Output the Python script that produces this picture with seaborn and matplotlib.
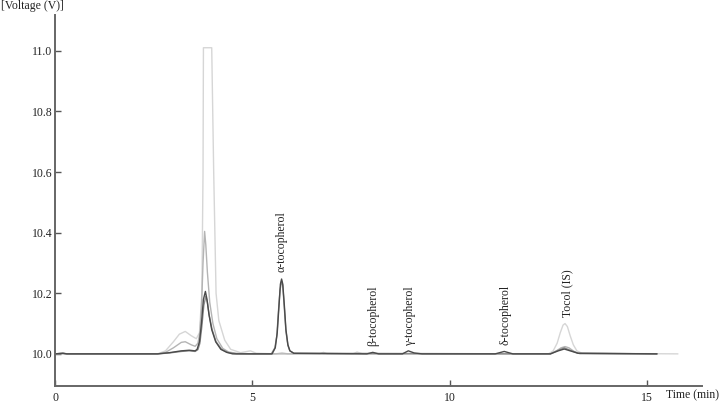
import matplotlib
matplotlib.use("Agg")
import matplotlib.pyplot as plt
import seaborn as sns
import pandas as pd

# ---- data (time in min, voltage in V) ----
t1 = [0, 0.2, 0.3, 2.6, 2.8, 3.0, 3.15, 3.3, 3.45, 3.58, 3.66, 3.72, 3.75, 3.76, 3.97, 4.02,
      4.08, 4.15, 4.3, 4.45, 4.7, 4.95, 5.1, 5.6, 5.75, 5.9, 6.7, 6.8, 6.9, 7.55, 7.65, 7.8,
      12.5, 12.62, 12.72, 12.8, 12.87, 12.92, 12.98, 13.05, 13.13, 13.22, 13.35, 15.78]
v1 = [10.0, 10.003, 10.0, 10.0, 10.01, 10.04, 10.065, 10.074, 10.06, 10.05, 10.07, 10.2, 10.6,
      11.01, 11.01, 10.6, 10.2, 10.11, 10.045, 10.015, 10.004, 10.01, 10.002, 10.0, 10.004, 10.0,
      10.0, 10.005, 10.0, 10.0, 10.006, 10.0,
      10.0, 10.01, 10.035, 10.07, 10.095, 10.10, 10.09, 10.06, 10.03, 10.01, 10.002, 10.0]

t2 = [0, 2.6, 2.8, 3.0, 3.2, 3.3, 3.45, 3.55, 3.62, 3.67, 3.71, 3.75, 3.79, 3.82, 3.86, 3.92,
      4.0, 4.1, 4.25, 4.4, 4.6, 5.0, 12.55, 12.7, 12.82, 12.92, 13.02, 13.15, 13.3, 15.25]
v2 = [10.0, 10.0, 10.005, 10.02, 10.038, 10.04, 10.03, 10.025, 10.035, 10.07, 10.15, 10.3,
      10.404, 10.36, 10.27, 10.17, 10.1, 10.05, 10.018, 10.006, 10.002, 10.0,
      10.0, 10.01, 10.02, 10.024, 10.02, 10.008, 10.0, 10.0]

t3 = [0, 0.2, 0.3, 2.6, 2.9, 3.2, 3.4, 3.55, 3.62, 3.67, 3.72, 3.77, 3.82, 3.86, 3.91, 3.98,
      4.08, 4.22, 4.37, 4.6, 5.48, 5.57, 5.62, 5.66, 5.7, 5.74, 5.77, 5.81, 5.85, 5.9, 5.95,
      6.05, 12.55, 12.75, 12.9, 13.05, 13.25, 15.25]
v3 = [10.0, 10.002, 10.0, 10.0, 10.003, 10.008, 10.01, 10.008, 10.014, 10.035, 10.09, 10.16,
      10.19, 10.17, 10.125, 10.08, 10.04, 10.015, 10.005, 10.0, 10.0, 10.02, 10.06, 10.14,
      10.21, 10.24, 10.225, 10.15, 10.075, 10.028, 10.01, 10.002, 10.0, 10.012, 10.02, 10.012,
      10.002, 10.0]

t4 = [0, 0.2, 0.3, 2.6, 2.9, 3.2, 3.4, 3.55, 3.6, 3.66, 3.71, 3.76, 3.81, 3.85, 3.9, 3.97,
      4.07, 4.2, 4.35, 4.5, 5.5, 5.58, 5.63, 5.67, 5.71, 5.74, 5.77, 5.81, 5.85, 5.9, 5.95,
      6.05, 7.9, 8.05, 8.2, 8.8, 8.95, 9.1, 9.3, 11.15, 11.38, 11.6, 12.55, 12.75, 12.9, 13.05,
      13.25, 15.25]
v4 = [10.0, 10.002, 10.0, 10.0, 10.004, 10.01, 10.012, 10.01, 10.015, 10.04, 10.1, 10.18,
      10.206, 10.18, 10.13, 10.08, 10.04, 10.015, 10.005, 10.0, 10.0, 10.02, 10.07, 10.15,
      10.23, 10.247, 10.23, 10.16, 10.08, 10.03, 10.01, 10.002, 10.0, 10.005, 10.0, 10.0,
      10.01, 10.003, 10.0, 10.0, 10.008, 10.0, 10.0, 10.01, 10.016, 10.01, 10.002, 10.0]

series_names = ["s1", "s2", "s3", "s4"]
series_colors = ["#d6d6d6", "#b4b4b4", "#8c8c8c", "#4a4a4a"]

peak_labels = ["α-tocopherol", "β-tocopherol", "γ-tocopherol", "δ-tocopherol", "Tocol (IS)"]
peak_t = [5.73, 8.06, 9.0, 11.4, 12.97]
peak_v = [10.27, 10.026, 10.026, 10.03, 10.12]

x_ticks = [0, 5, 10, 15]
y_ticks = [10.0, 10.2, 10.4, 10.6, 10.8, 11.0]

frames = []
for name, tt, vv in zip(series_names, [t1, t2, t3, t4], [v1, v2, v3, v4]):
    frames.append(pd.DataFrame({"t": tt, "v": vv, "trace": name}))
df = pd.concat(frames, ignore_index=True)

sns.set_theme(style="white")
plt.rcParams["font.family"] = ["Liberation Serif", "DejaVu Serif"]

fig = plt.figure(figsize=(7.2, 4.07), dpi=100)
ax = fig.add_axes([55 / 720, 21 / 407, 647 / 720, 371 / 407])

sns.lineplot(data=df, x="t", y="v", hue="trace", hue_order=series_names,
             palette=dict(zip(series_names, series_colors)), sort=False,
             estimator=None, legend=False, linewidth=1.0, ax=ax)

ax.set_xlim(0, 16.39)
ax.set_ylim(9.894, 11.118)
ax.set_xticks(x_ticks)
ax.set_xticklabels([str(x) for x in x_ticks])
ax.set_yticks(y_ticks)
ax.set_yticklabels([f"{y:.1f}" for y in y_ticks])
ax.set_xlabel("")
ax.set_ylabel("")
ax.tick_params(direction="in", length=4, width=1, color="#555555",
               labelsize=8.5, labelcolor="#222222", pad=4)
ax.tick_params(axis="y", pad=2, left=True)
ax.tick_params(axis="x", bottom=True)
for side in ["top", "right"]:
    ax.spines[side].set_visible(False)
for side in ["left", "bottom"]:
    ax.spines[side].set_color("#666666")
    ax.spines[side].set_linewidth(1.4)

for lab, tx, vy in zip(peak_labels, peak_t, peak_v):
    ax.text(tx, vy, lab, rotation=90, ha="center", va="bottom",
            fontsize=8.5, color="#222222")

fig.text(1 / 720, 1 - 6 / 407, "[Voltage (V)]", ha="left", va="center",
         fontsize=8.5, color="#222222")
fig.text(666 / 720, 1 - 395 / 407, "Time (min)", ha="left", va="center",
         fontsize=8.5, color="#222222")

fig.savefig("out.png", dpi=100)
